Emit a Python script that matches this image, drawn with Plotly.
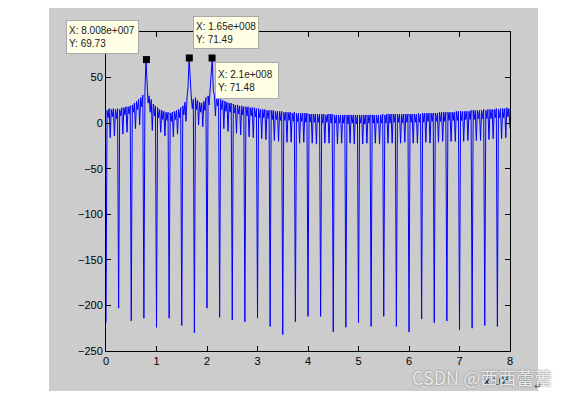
import math
import plotly.graph_objects as go

# ---------------- data (frequency in units of 1e8 Hz, magnitude in dB) ----------------
BIN = 0.25 / 12  # spectrum sample spacing (1e8 Hz)

mag_db = [
    # 0.00 - 0.25
    -219, 14, 6, 16, -16, 15, 7, 16, -14, 15, 5, 16,
    # 0.25 - 0.50
    -203, 15, 8, 17, -12, 17, 9, 18, -10, 18, 10, 19,
    # 0.50 - 0.75
    -217, 20, 12, 22, -6, 24, 15, 26, -2, 28, 18, 31,
    # 0.75 - 1.00
    -214, 35, 69.73, 48, 22, 30, 12, 26, -8, 21, 8, 19,
    # 1.00 - 1.25
    -224, 17, 6, 15, -10, 14, 4, 13, -14, 12, 3, 12,
    # 1.25 - 1.50
    -214, 11, 2, 12, -15, 13, 4, 14, -12, 15, 6, 17,
    # 1.50 - 1.75
    -222, 19, 9, 23, 2, 28, 40, 71.49, 45, 30, 16, 26,
    # 1.75 - 2.00
    -230, 28, 15, 25, -2, 23, 12, 22, -4, 24, 14, 28,
    # 2.00 - 2.25
    -203, 30, 20, 36, 45, 71.48, 36, 31, 8, 29, 19, 28,
    # 2.25 - 2.50
    -213, 26, 15, 25, -6, 24, 13, 23, -9, 22, 12, 22,
    # 2.50 - 2.75
    -216, 21, 11, 20, -11, 20, 10, 19, -13, 19, 9, 18,
    # 2.75 - 3.00
    -218, 18, 8, 18, -15, 17, 8, 17, -16, 17, 7, 16,
    # 3.00 - 3.25
    -214, 16, 6, 15, -17, 15, 6, 15, -18, 14, 5, 14,
    # 3.25 - 3.50
    -223, 14, 4, 14, -19, 13, 4, 13, -20, 13, 3, 13,
    # 3.50 - 3.75
    -232, 12, 3, 12, -21, 12, 3, 12, -21, 11, 2, 12,
    # 3.75 - 4.00
    -218, 11, 2, 11, -22, 11, 2, 11, -21, 11, 1, 11,
    # 4.00 - 4.25
    -212, 10, 1, 10, -22, 10, 1, 10, -23, 10, 1, 10,
    # 4.25 - 4.50
    -212, 10, 0, 10, -22, 9, 1, 10, -22, 10, 0, 10,
    # 4.50 - 4.75
    -229, 9, 0, 9, -23, 9, 0, 9, -22, 9, 0, 9,
    # 4.75 - 5.00
    -224, 9, -1, 9, -22, 9, 0, 9, -23, 9, -1, 9,
    # 5.00 - 5.25
    -219, 9, 0, 9, -23, 9, -1, 9, -22, 9, 0, 9,
    # 5.25 - 5.50
    -223, 9, 0, 9, -22, 9, 0, 9, -23, 9, 0, 10,
    # 5.50 - 5.75
    -212, 9, 0, 10, -22, 10, 0, 10, -22, 10, 1, 10,
    # 5.75 - 6.00
    -223, 10, 1, 10, -22, 10, 0, 10, -21, 10, 1, 10,
    # 6.00 - 6.25
    -229, 10, 1, 10, -22, 10, 1, 10, -22, 11, 1, 10,
    # 6.25 - 6.50
    -215, 11, 1, 11, -21, 11, 2, 11, -22, 11, 2, 11,
    # 6.50 - 6.75
    -219, 11, 2, 11, -21, 12, 2, 12, -20, 12, 2, 12,
    # 6.75 - 7.00
    -217, 12, 3, 12, -20, 12, 3, 12, -20, 13, 3, 13,
    # 7.00 - 7.25
    -227, 13, 3, 13, -20, 13, 4, 13, -19, 13, 4, 14,
    # 7.25 - 7.50
    -225, 14, 4, 14, -19, 14, 5, 14, -19, 14, 5, 15,
    # 7.50 - 7.75
    -222, 14, 5, 15, -18, 15, 5, 15, -17, 15, 6, 16,
    # 7.75 - 8.00
    -223, 15, 6, 16, -17, 16, 6, 16, -16, 17, 7, 16,
    # 8.00
    -6,
]
freq = [i * BIN for i in range(len(mag_db))]

tip_x = [0.8008, 1.65, 2.1]        # 1e8 Hz
tip_y = [69.73, 71.49, 71.48]      # dB

x_ticks = [0, 1, 2, 3, 4, 5, 6, 7, 8]
y_ticks = [-250, -200, -150, -100, -50, 0, 50]


def matlab_sci(v):
    e = int(math.floor(math.log10(abs(v))))
    m = v / 10 ** e
    return f"{m:.4g}e+{e:03d}"


tip_text = [f"X: {matlab_sci(x * 1e8)}<br>Y: {y:.4g}" for x, y in zip(tip_x, tip_y)]

# ---------------- figure ----------------
# the page body has an 8px margin, so the figure is drawn 8px in and 8px down
OFF = 8
W, H = 573 - OFF, 396 - OFF
AX_L, AX_R, AX_T, AX_B = 106, 510, 32, 351   # axes box in page pixels
L, T = AX_L - OFF, AX_T - OFF
R, B = W - (AX_R - OFF), H - (AX_B - OFF)
PW, PH = AX_R - AX_L, AX_B - AX_T


def px(x):
    return (x - AX_L) / PW


def py(y):
    return (AX_B - y) / PH


fig = go.Figure()
fig.add_trace(go.Scatter(
    x=freq, y=mag_db, mode="lines",
    line=dict(color="#0000FF", width=1),
    hoverinfo="skip", showlegend=False,
))
fig.add_trace(go.Scatter(
    x=tip_x, y=tip_y, mode="markers",
    marker=dict(symbol="square", size=7, color="black"),
    hoverinfo="skip", showlegend=False, cliponaxis=False,
))

axis_font = dict(family="Liberation Sans, Arial, sans-serif", size=11, color="black")
fig.update_layout(
    width=W, height=H, autosize=False,
    margin=dict(l=L, r=R, t=T, b=B, pad=0),
    paper_bgcolor="white", plot_bgcolor="white",
    xaxis=dict(range=[0, 8], tickvals=x_ticks, ticks="inside", ticklen=5,
               showline=True, mirror="ticks", linecolor="black", linewidth=1,
               tickcolor="black", showgrid=False, zeroline=False, tickfont=axis_font),
    yaxis=dict(range=[-250, 100], tickvals=y_ticks, ticks="inside", ticklen=5,
               showline=True, mirror="ticks", linecolor="black", linewidth=1,
               tickcolor="black", showgrid=False, zeroline=False, tickfont=axis_font),
    shapes=[dict(type="rect", xref="paper", yref="paper", layer="below",
                 x0=px(49), x1=px(538), y0=py(391), y1=py(8),
                 fillcolor="#CCCCCC", line=dict(width=0))],
)

# data tips (left, top in page pixels; inner width, height)
tip_boxes = [(66, 20, 67, 28), (193, 16, 60, 27), (215, 62, 58, 31)]
for txt, (bx, by, bw, bh) in zip(tip_text, tip_boxes):
    fig.add_annotation(
        text=txt, xref="paper", yref="paper", x=px(bx), y=py(by),
        xanchor="left", yanchor="top", align="left", showarrow=False,
        width=bw, height=bh, borderpad=2, borderwidth=1,
        bordercolor="#A8A8A8", bgcolor="#FFFFE6",
        font=dict(family="Liberation Sans, Arial, sans-serif", size=10, color="#202020"),
    )

# exponent label
fig.add_annotation(
    text="x 10<sup>8</sup>", xref="paper", yref="paper", x=px(482), y=py(380),
    xanchor="left", yanchor="middle", showarrow=False,
    font=dict(family="Liberation Sans, Arial, sans-serif", size=11, color="black"),
)

# watermark
fig.add_annotation(
    text="CSDN @西西蕾蕾", xref="paper", yref="paper", x=px(410), y=py(377),
    xanchor="left", yanchor="middle", showarrow=False,
    font=dict(family="Noto Sans CJK SC, sans-serif", size=18, color="rgba(245,245,245,0.9)",
              shadow="0px 0px 2px #666666"),
)
fig.add_annotation(
    text="↵", xref="paper", yref="paper", x=px(538), y=py(386),
    xanchor="center", yanchor="middle", showarrow=False,
    font=dict(family="DejaVu Sans, sans-serif", size=9, color="#555555"),
)

fig.write_html("out.html", config={"displayModeBar": False})
